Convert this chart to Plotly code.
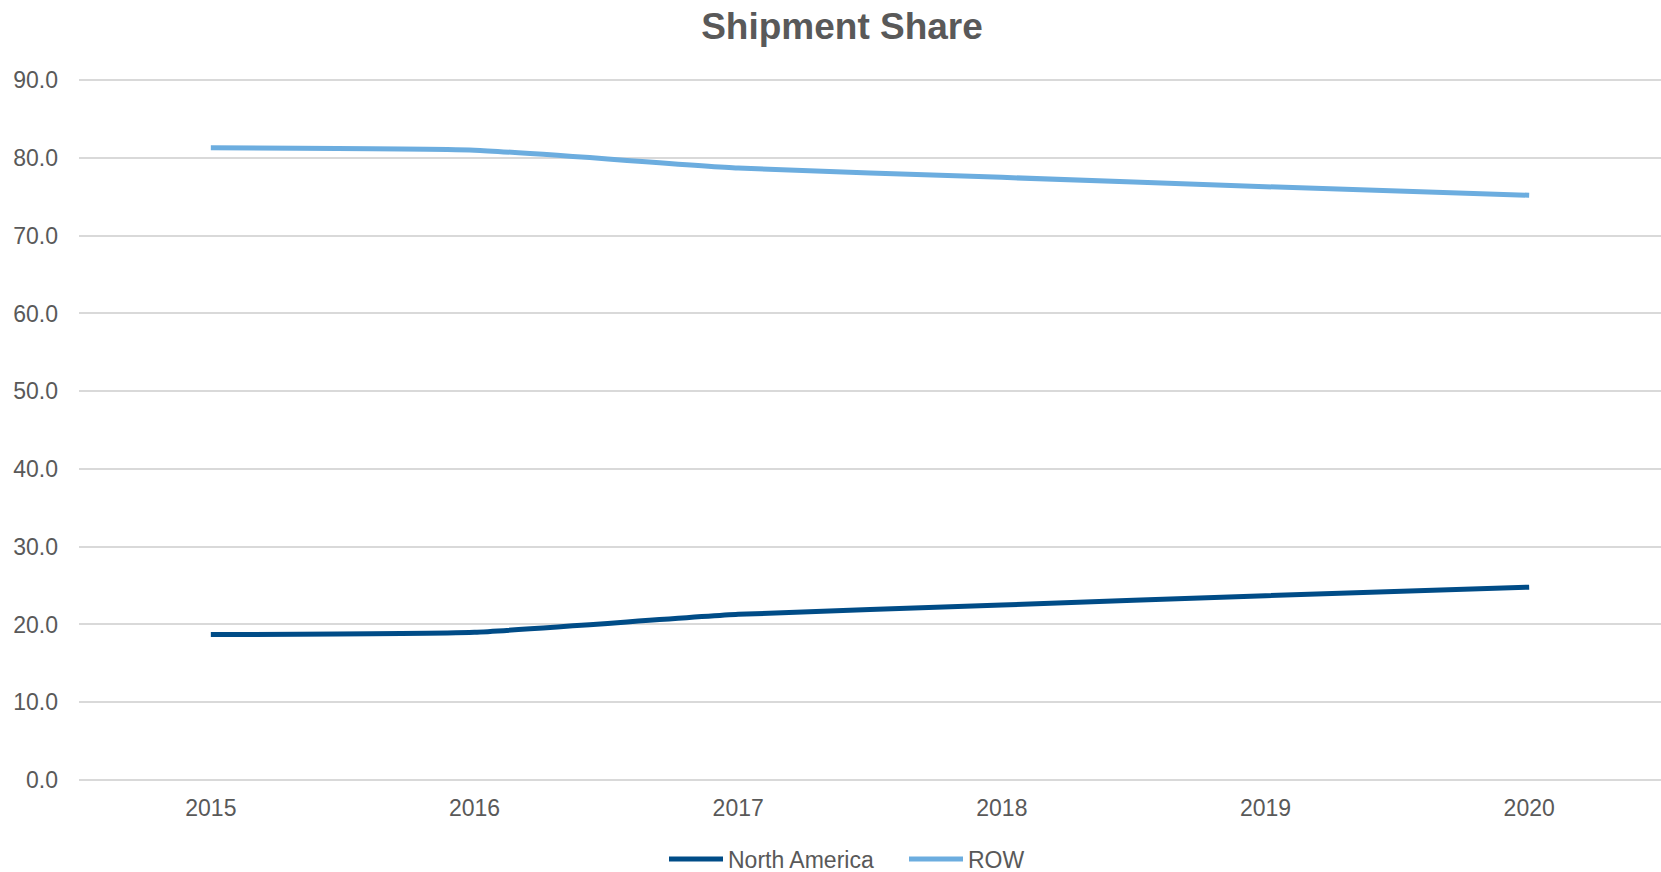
import plotly.graph_objects as go

years = ["2015", "2016", "2017", "2018", "2019", "2020"]
north_america = [18.7, 19.0, 21.3, 22.5, 23.7, 24.8]
row = [81.3, 81.0, 78.7, 77.5, 76.3, 75.2]
y_ticks = [0, 10, 20, 30, 40, 50, 60, 70, 80, 90]

FONT = "Liberation Sans, Arial, sans-serif"
GREY = "#595959"

Y0_PX = 779.7
Y90_PX = 80.5
PX_PER_UNIT = (Y0_PX - Y90_PX) / 90
Y_TOP = 90.15
top_margin = Y90_PX - (Y_TOP - 90) * PX_PER_UNIT

fig = go.Figure()
fig.add_trace(go.Scatter(x=years, y=north_america, name="North America", mode="lines",
                         line=dict(color="#004C87", width=5, shape="spline", smoothing=0.45)))
fig.add_trace(go.Scatter(x=years, y=row, name="ROW", mode="lines",
                         line=dict(color="#6CADDF", width=5, shape="spline", smoothing=0.45)))

fig.update_layout(
    width=1661, height=872, autosize=False,
    margin=dict(l=79, r=0, t=top_margin, b=872 - Y0_PX, pad=0, autoexpand=False),
    paper_bgcolor="white", plot_bgcolor="white",
    font=dict(family=FONT, size=23, color=GREY),
    title=dict(text="<b>Shipment Share</b>", x=842 / 1661, xanchor="center", xref="container",
               y=1 - 26 / 872, yanchor="middle", yref="container",
               font=dict(family=FONT, size=37, color=GREY)),
    showlegend=True,
    legend=dict(orientation="h", xref="container", yref="container",
                x=664 / 1661, xanchor="left", y=1 - 859 / 872, yanchor="middle",
                font=dict(family=FONT, size=23, color=GREY), itemwidth=54,
                entrywidth=171, entrywidthmode="pixels",
                bgcolor="rgba(0,0,0,0)"),
    xaxis=dict(type="category", range=[-0.5, 5.5], showgrid=False, showline=False, zeroline=False,
               ticks="", tickfont=dict(family=FONT, size=23, color=GREY),
               ticklabelstandoff=12),
    yaxis=dict(range=[0, Y_TOP], tickvals=y_ticks, ticktext=[f"{v:.1f}" for v in y_ticks],
               showgrid=True, gridcolor="#D9D9D9", gridwidth=1.5,
               zeroline=True, zerolinecolor="#D9D9D9", zerolinewidth=1.5,
               showline=False, ticks="", tickfont=dict(family=FONT, size=23, color=GREY),
               ticklabelstandoff=20),
)

fig.write_html("out.html", config={"displayModeBar": False},
               post_script="document.body.style.margin='0';document.body.style.overflow='hidden';")
